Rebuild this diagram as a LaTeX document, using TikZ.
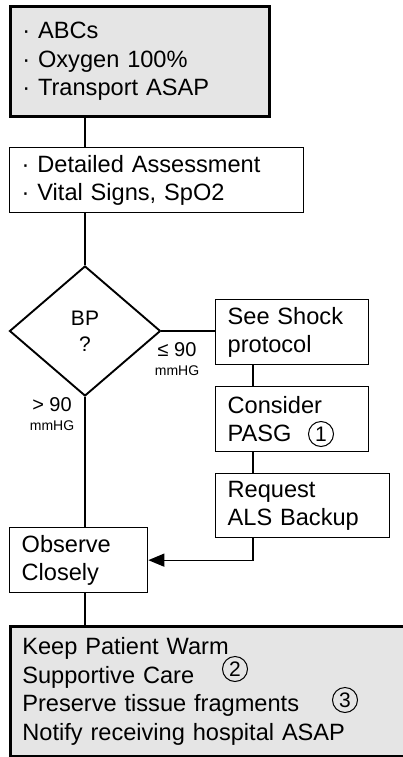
\documentclass[tikz,border=0pt]{standalone}
\usepackage{fontspec}
\setmainfont{Liberation Sans}
\usetikzlibrary{positioning,shapes.geometric,arrows.meta}

\begin{document}
\begin{tikzpicture}[x=1bp, y=-1bp,
		plainbox/.style={rectangle, draw=black, line width=1.3bp, fill=white, anchor=north west, align=left,
			inner xsep=12bp, inner ysep=0bp, font=\fontsize{23.6bp}{28.5bp}\selectfont},
		shadebox/.style={plainbox, fill=gray!20, line width=2.7bp},
		decision/.style={diamond, draw=black, line width=1.9bp, inner sep=0bp, align=center,
			minimum width=151bp, minimum height=130bp, font=\fontsize{21bp}{26bp}\selectfont},
		cond/.style={align=center, inner sep=0bp, font=\fontsize{20bp}{19.5bp}\selectfont},
		numcirc/.style={circle, draw=black, line width=1bp, minimum size=25bp, inner sep=0bp,
			font=\fontsize{21bp}{21bp}\selectfont},
		conn/.style={draw=black, line width=1.3bp}
]

\useasboundingbox (0,0) rectangle (402,757);

\node [shadebox, text width=235bp, minimum height=110bp] (first) at (9,5)
	{· ABCs\\· Oxygen 100\%\\· Transport ASAP};
\node [plainbox, text width=270bp, minimum height=65bp] (detail) at (9,147)
	{· Detailed Assessment\\· Vital Signs, SpO2};
\node [decision] (bp) at (85,331) {BP\\?};
\node [plainbox, text width=129bp, minimum height=65bp] (shock) at (215,299) {See Shock\\protocol};
\node [plainbox, text width=129bp, minimum height=65bp] (pasg) at (215,386) {Consider\\PASG};
\node [plainbox, text width=150bp, minimum height=64bp] (als) at (215,473) {Request\\ALS Backup};
\node [plainbox, text width=114bp, minimum height=65bp] (observe) at (9,527) {Observe\\Closely};
\node [shadebox, text width=385bp, minimum height=130bp] (care) at (9,625)
	{Keep Patient Warm\\Supportive Care\\Preserve tissue fragments\\Notify receiving hospital ASAP};

\node [numcirc] (n1) at (321,434) {1};
\node [numcirc] (n2) at (235,669) {2};
\node [numcirc] (n3) at (345,700) {3};

\node [cond] (low) at (177,359) {≤ 90\\{\fontsize{14bp}{14bp}\selectfont mmHG}};
\node [cond] (high) at (52,414) {> 90\\{\fontsize{14bp}{14bp}\selectfont mmHG}};

\coordinate (rail) at (253,0);

\draw [conn] (first.south -| bp.north) -- (detail.north -| bp.north);
\draw [conn] (detail.south -| bp.north) -- (bp.north);
\draw [conn] (bp.east) -- (bp.east -| shock.west);
\draw [conn] (shock.south -| rail) -- (pasg.north -| rail);
\draw [conn] (pasg.south -| rail) -- (als.north -| rail);
\draw [conn, -{Triangle[length=16bp, width=13bp]}] (als.south -| rail) |- (observe.east);
\draw [conn] (bp.south) -- (bp.south |- observe.north);
\draw [conn] (observe.south -| bp.south) -- (care.north -| bp.south);

\end{tikzpicture}
\end{document}
